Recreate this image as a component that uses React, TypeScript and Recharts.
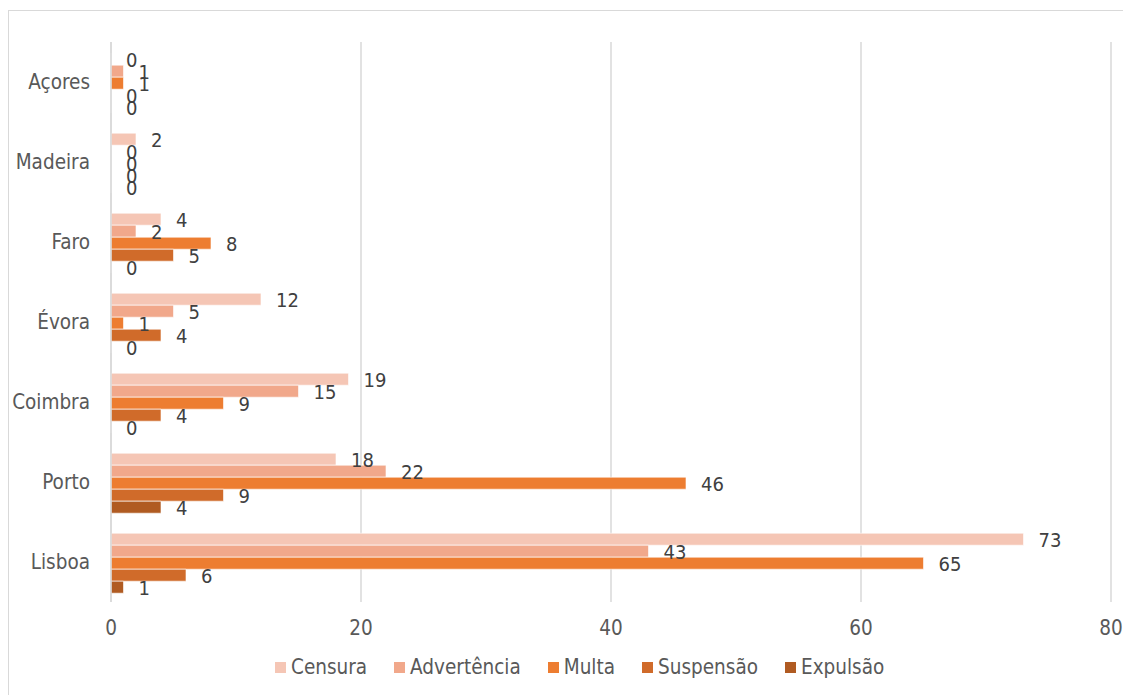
import React from "react";
import { BarChart, Bar, XAxis, YAxis, CartesianGrid, Legend, LabelList } from "recharts";

const categories = ["Açores", "Madeira", "Faro", "Évora", "Coimbra", "Porto", "Lisboa"];
const censura = [0, 2, 4, 12, 19, 18, 73];
const advertencia = [1, 0, 2, 5, 15, 22, 43];
const multa = [1, 0, 8, 1, 9, 46, 65];
const suspensao = [0, 0, 5, 4, 4, 9, 6];
const expulsao = [0, 0, 0, 0, 0, 4, 1];
const xTicks = [0, 20, 40, 60, 80];

const seriesNames = ["Censura", "Advertência", "Multa", "Suspensão", "Expulsão"];
const seriesKeys = ["censura", "advertencia", "multa", "suspensao", "expulsao"];
const colors = ["#F5C6B5", "#F1A88B", "#ED7D31", "#D06B2A", "#B05B22"];

const data = categories.map((c, i) => ({
  name: c,
  censura: censura[i],
  advertencia: advertencia[i],
  multa: multa[i],
  suspensao: suspensao[i],
  expulsao: expulsao[i],
}));

const FONT = "'DejaVu Sans Condensed', 'DejaVu Sans', sans-serif";
const FS = 20.5;

const LegendContent = () => (
  <div style={{ display: "flex", alignItems: "center", fontFamily: FONT, fontSize: FS, color: "#595959", whiteSpace: "nowrap", lineHeight: "22px" }}>
    {seriesNames.map((n, i) => (
      <div key={n} style={{ display: "flex", alignItems: "center", marginRight: 27 }}>
        <div style={{ width: 11, height: 11, background: colors[i], marginRight: 5 }} />
        <span>{n}</span>
      </div>
    ))}
  </div>
);

export default function App() {
  return (
    <div style={{ width: 1121, height: 690, marginTop: 2, border: "1px solid #D9D9D9", borderBottom: "none", borderRight: "none", boxSizing: "content-box", position: "relative" }}>
      <BarChart
        width={1120}
        height={684}
        data={data}
        layout="vertical"
        margin={{ top: 31, right: 18, bottom: 63, left: 0 }}
        barCategoryGap="14%"
        barGap={0}
      >
        <CartesianGrid horizontal={false} stroke="#D9D9D9" strokeWidth={1.5} />
        <XAxis
          type="number"
          domain={[0, 80]}
          ticks={xTicks}
          axisLine={false}
          tickLine={false}
          tickSize={0}
          tickMargin={18}
          height={30}
          tick={{ fill: "#595959", fontSize: FS, fontFamily: FONT }}
        />
        <YAxis
          type="category"
          dataKey="name"
          width={102}
          axisLine={{ stroke: "#D9D9D9", strokeWidth: 1.5 }}
          tickLine={false}
          tickSize={0}
          tickMargin={21}
          tick={{ fill: "#595959", fontSize: FS, fontFamily: FONT }}
        />
        <Legend
          verticalAlign="middle"
          align="center"
          layout="horizontal"
          content={<LegendContent />}
          wrapperStyle={{ top: 645, left: 266, width: 780, height: 22 }}
        />
        {seriesKeys.map((k, i) => (
          <Bar key={k} dataKey={k} name={seriesNames[i]} fill={colors[i]} stroke="#FFFFFF" strokeWidth={0.6} minPointSize={0.001} isAnimationActive={false}>
            <LabelList dataKey={k} position="right" offset={15} fill="#404040" fontSize={20} fontFamily={FONT} dy={1} />
          </Bar>
        ))}
      </BarChart>
    </div>
  );
}
